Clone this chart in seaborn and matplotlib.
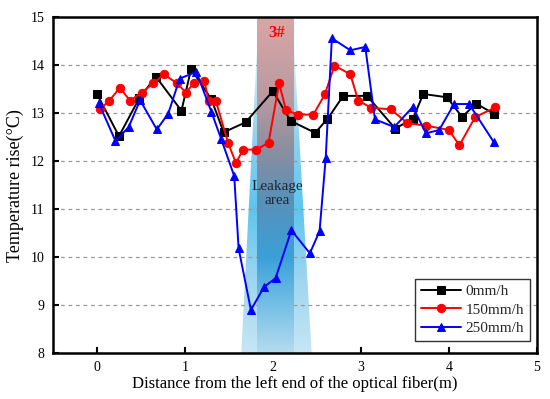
import numpy as np
import pandas as pd
import matplotlib
matplotlib.use("Agg")
import matplotlib.pyplot as plt
from matplotlib.patches import Polygon
from matplotlib.colors import to_rgba
import seaborn as sns

#%% Data

x_0 = [0.00, 0.25, 0.48, 0.67, 0.96, 1.07, 1.30, 1.44, 1.69, 2.00, 2.20,
       2.48, 2.62, 2.80, 3.07, 3.39, 3.59, 3.71, 3.98, 4.15, 4.31, 4.51]
y_0 = [13.40, 12.52, 13.31, 13.76, 13.05, 13.92, 13.29, 12.60, 12.81, 13.46, 12.84,
       12.59, 12.88, 13.36, 13.36, 12.68, 12.88, 13.40, 13.33, 12.92, 13.20, 12.99]

x_150 = [0.03, 0.14, 0.26, 0.375, 0.51, 0.64, 0.76, 0.91, 1.01, 1.10, 1.22, 1.27,
         1.35, 1.49, 1.58, 1.66, 1.81, 1.95, 2.07, 2.15, 2.29, 2.46, 2.59, 2.70,
         2.88, 2.97, 3.12, 3.34, 3.53, 3.74, 4.00, 4.12, 4.30, 4.53]
y_150 = [13.08, 13.26, 13.53, 13.26, 13.43, 13.62, 13.81, 13.62, 13.43, 13.62, 13.67, 13.26,
         13.26, 12.38, 11.96, 12.24, 12.24, 12.38, 13.62, 13.06, 12.97, 12.97, 13.39, 13.99,
         13.81, 13.26, 13.11, 13.08, 12.79, 12.74, 12.65, 12.33, 12.92, 13.12]

x_250 = [0.02, 0.21, 0.36, 0.49, 0.68, 0.81, 0.94, 1.13, 1.30, 1.41, 1.56, 1.61,
         1.75, 1.90, 2.03, 2.21, 2.42, 2.53, 2.60, 2.67, 2.88, 3.05, 3.16, 3.38,
         3.59, 3.74, 3.89, 4.06, 4.23, 4.51]
y_250 = [13.21, 12.42, 12.71, 13.27, 12.66, 12.99, 13.72, 13.86, 13.03, 12.47, 11.69, 10.18,
         8.90, 9.38, 9.56, 10.56, 10.08, 10.54, 12.06, 14.56, 14.31, 14.38, 12.87, 12.71,
         13.13, 12.58, 12.65, 13.19, 13.19, 12.40]

labels = ['0mm/h', '150mm/h', '250mm/h']
colors = ['black', 'red', 'blue']
markers = ['s', 'o', '^']

df = pd.concat([
    pd.DataFrame({'x': x_0, 'y': y_0, 'Rate': labels[0]}),
    pd.DataFrame({'x': x_150, 'y': y_150, 'Rate': labels[1]}),
    pd.DataFrame({'x': x_250, 'y': y_250, 'Rate': labels[2]}),
], ignore_index=True)

#%% Style

sns.set_theme(style='white')
plt.rcParams['font.family'] = ['Liberation Serif', 'DejaVu Serif']

fig, ax = plt.subplots(figsize=(5.5, 3.99), dpi=100)
fig.subplots_adjust(left=0.0964, right=0.976, top=0.957, bottom=0.115)

#%% Leakage area shading (gradient images clipped to shapes)

def grad_image(stops_y, stops_c, n=200):
    ys = np.linspace(8, 15, n)
    rgba = np.array([to_rgba(c) for c in stops_c])
    img = np.zeros((n, 1, 4))
    for k in range(4):
        img[:, 0, k] = np.interp(ys, stops_y, rgba[:, k])
    return img

wing = grad_image([8, 9.5, 11, 12.5, 14.4, 15],
                  ['#c6e6f4', '#9fd6ef', '#5ec4ee', '#8fd2ef', '#e4f3fa', '#ffffff00'])
im1 = ax.imshow(wing, extent=(1.5, 2.6, 8, 15), origin='lower', aspect='auto',
                zorder=0.5, interpolation='bilinear')
trap = Polygon([(1.82, 14.4), (2.24, 14.4), (2.44, 8), (1.64, 8)], closed=True,
               transform=ax.transData, facecolor='none', edgecolor='none')
ax.add_patch(trap)
im1.set_clip_path(trap)

core = grad_image([8, 9, 10, 11.2, 12.2, 13.3, 15],
                  ['#b4dbee', '#74bfe6', '#3aa0d8', '#5a90b8', '#8a8ea0', '#b89aa0', '#d9a6a6'])
im2 = ax.imshow(core, extent=(1.82, 2.24, 8, 15), origin='lower', aspect='auto',
                zorder=0.6, interpolation='bilinear')

#%% Lines

sns.lineplot(data=df, x='x', y='y', hue='Rate', style='Rate', hue_order=labels,
             style_order=labels, palette=colors, markers=markers, dashes=False,
             sort=False, estimator=None, linewidth=1.4, markersize=6,
             markeredgecolor=None, ax=ax, zorder=3)
for line, c in zip(ax.get_lines(), colors):
    line.set_markeredgecolor(c)

#%% Axes

ax.set_xlim(-0.5, 5)
ax.set_ylim(8, 15)
ax.set_xticks([0, 1, 2, 3, 4, 5])
ax.set_yticks([8, 9, 10, 11, 12, 13, 14, 15])
ax.tick_params(direction='in', length=4, width=1.5, labelsize=10, colors='black',
               left=True, bottom=True, pad=6)
ax.yaxis.grid(True, linestyle=(0, (3, 3)), color='#999999', linewidth=0.9)
ax.set_axisbelow(True)
for s in ax.spines.values():
    s.set_linewidth(1.8)
    s.set_color('black')

ax.set_xlabel('Distance from the left end of the optical fiber(m)', fontsize=12,
              color='black', labelpad=1)
ax.set_ylabel('Temperature rise(°C)', fontsize=13, color='black', labelpad=5)

ax.text(2.04, 14.67, '3#', color='red', fontsize=12, fontweight='bold',
        ha='center', va='center', zorder=4)
ax.text(2.05, 11.33, 'Leakage\narea', color='#1a2a3a', fontsize=11,
        ha='center', va='center', linespacing=1.1, zorder=4)

leg = ax.legend(loc='lower right', fontsize=11, frameon=True, fancybox=False,
                edgecolor='black', handlelength=2.6, borderpad=0.4,
                labelspacing=0.3, handletextpad=0.3, borderaxespad=0.2,
                bbox_to_anchor=(0.992, 0.027))
leg.get_frame().set_linewidth(1.0)
leg.set_zorder(5)

fig.savefig('out.png', dpi=100)
